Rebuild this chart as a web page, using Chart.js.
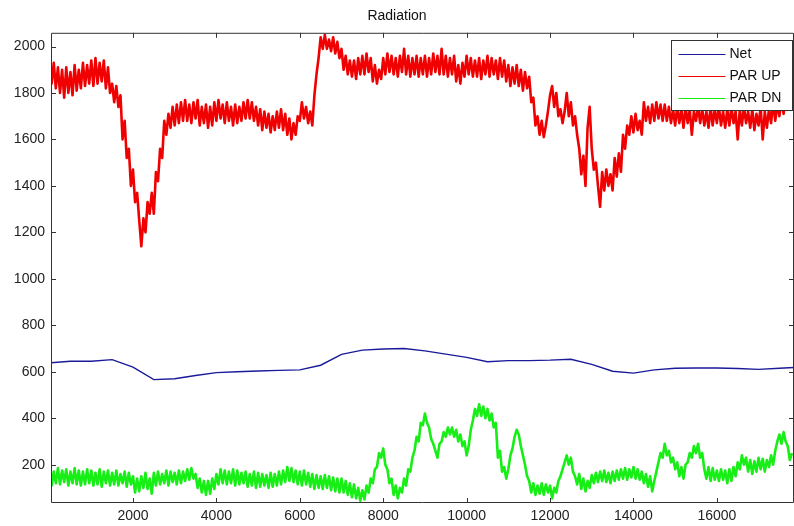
<!DOCTYPE html>
<html>
<head>
<meta charset="utf-8">
<script src="https://cdn.jsdelivr.net/npm/chart.js@4.4.1/dist/chart.umd.min.js"></script>
<style>
  html, body { margin: 0; padding: 0; background: #ffffff; }
  #wrap { width: 794px; height: 526px; }
</style>
</head>
<body>
<div id="wrap"><canvas id="c" width="794" height="526"></canvas></div>
<script>
// ---------- data ----------
const seriesNames = ["Net", "PAR UP", "PAR DN"];
const xTicks = [2000, 4000, 6000, 8000, 10000, 12000, 14000, 16000];
const yTicks = [200, 400, 600, 800, 1000, 1200, 1400, 1600, 1800, 2000];

// Net: one sample every 500 x-units
const netStep = 500;
const net = [638,645,645,652,620,566,570,584,596,600,603,606,608,628,675,693,698,700,690,
             676,662,643,648,648,650,654,632,602,594,608,615,616,616,614,610,615,620];

// PAR UP: one sample every 50 x-units (noisy trace: upper / lower swings)
const parStep = 50;
const parUp = [
1950,1840,1930,1820,1910, 1800,1900,1780,1910,1800, 1890,1790,1920,1810,1900, 1820,1930,1830,1920,1840,
1940,1830,1950,1840,1930, 1850,1940,1820,1910,1800, 1840,1760,1830,1740,1790, 1600,1680,1520,1560,1400,
1470,1330,1370,1250,1140, 1260,1200,1330,1280,1370, 1280,1460,1420,1560,1520, 1680,1620,1710,1650,1740,
1660,1750,1670,1760,1680, 1770,1680,1750,1670,1760, 1690,1770,1660,1740,1670, 1750,1650,1740,1660,1760,
1680,1770,1690,1750,1670, 1760,1680,1740,1660,1750, 1670,1740,1680,1760,1690, 1770,1690,1760,1680,1740,
1660,1730,1640,1720,1650, 1710,1630,1700,1640,1720, 1650,1730,1640,1710,1620, 1690,1600,1670,1620,1700,
1680,1760,1690,1740,1670, 1720,1660,1790,1880,1950, 2040,1990,2050,1990,2030, 1980,2040,1970,2020,1950,
1990,1900,1960,1880,1940, 1870,1940,1860,1950,1880, 1960,1880,1970,1890,1950, 1850,1920,1840,1900,1860,
1950,1880,1970,1890,1960, 1880,1950,1870,1960,1890, 1990,1880,1960,1870,1950, 1880,1960,1870,1950,1880,
1960,1870,1950,1880,1970, 1890,1960,1880,1990,1880, 1960,1870,1950,1880,1960, 1850,1920,1840,1930,1870,
1960,1880,1950,1870,1940, 1870,1950,1860,1940,1880, 1960,1870,1950,1880,1940, 1860,1950,1870,1940,1850,
1920,1830,1910,1840,1920, 1830,1900,1810,1890,1820, 1870,1760,1780,1660,1700, 1620,1680,1610,1660,1720,
1790,1830,1740,1800,1700, 1730,1670,1720,1800,1700, 1760,1660,1700,1620,1560, 1450,1530,1400,1650,1740,
1560,1470,1500,1400,1310, 1460,1380,1470,1400,1450, 1380,1520,1440,1540,1460, 1620,1560,1660,1620,1700,
1630,1710,1640,1680,1620, 1760,1680,1740,1670,1750, 1680,1760,1690,1750,1680, 1750,1680,1740,1670,1730,
1660,1740,1670,1730,1650, 1740,1670,1730,1620,1720, 1680,1740,1670,1730,1660, 1720,1650,1740,1660,1730,
1670,1740,1660,1720,1650, 1730,1660,1740,1670,1720, 1600,1730,1660,1740,1670, 1720,1650,1730,1640,1710,
1660,1740,1600,1720,1650, 1730,1670,1760,1680,1750, 1700,1780,1710,1790,1740, 1800,1760
];

// PAR DN: one sample every 50 x-units
const parDn = [
180,110,170,120,185, 115,175,125,180,110, 170,120,185,115,175, 110,170,115,180,120,
175,110,165,115,180, 105,170,120,175,110, 165,115,175,110,160, 120,170,105,165,115,
150,80,140,85,150, 100,165,95,140,75, 165,110,170,115,160, 120,175,110,170,125,
165,115,175,120,170, 130,180,135,185,140, 160,100,140,80,130, 70,130,75,140,95,
160,115,180,120,175, 115,170,120,180,110, 175,115,165,120,170, 105,160,110,170,100,
165,105,160,110,155, 100,165,105,160,110, 170,115,175,125,190, 130,185,125,175,115,
170,110,175,115,165, 105,160,95,155,100, 150,95,155,100,150, 90,145,85,140,80,
140,80,130,70,120, 60,115,55,100,45, 90,50,110,80,140, 120,180,190,250,230,
270,200,180,120,140, 70,110,55,100,80, 140,110,180,170,230, 260,320,300,380,370,
420,380,360,310,290, 260,230,290,300,340, 320,360,330,360,320, 350,300,330,280,300,
240,280,350,390,440, 410,460,410,450,400, 440,390,420,360,380, 230,260,170,190,140,
180,240,270,320,350, 330,280,240,200,150, 130,80,120,70,110, 75,120,70,115,80,
110,55,100,80,130, 150,180,210,240,200, 230,170,150,115,160, 95,140,85,130,100,
155,120,165,125,170, 130,175,125,165,120, 170,130,175,135,180, 140,185,135,180,145,
190,140,180,135,170, 120,160,105,150,85, 130,170,210,250,230, 290,240,260,210,230,
180,210,150,190,140, 200,210,250,230,280, 250,290,230,250,180, 140,190,130,185,135,
175,130,180,135,175, 120,180,130,190,150, 210,180,240,200,230, 170,220,160,215,170,
230,180,225,170,220, 190,240,200,260,300, 330,290,340,300,280, 220,250
];

// ---------- chart ----------
const FONT = "'Liberation Sans', Arial, sans-serif";
const toXY = (arr, step) => arr.map((v, i) => ({ x: i * step, y: v }));

const matlabFrame = {
  id: 'matlabFrame',
  afterDatasetsDraw(chart) {
    const { ctx, chartArea: a, scales } = chart;
    ctx.save();
    ctx.strokeStyle = '#333333';
    ctx.lineWidth = 1;
    ctx.beginPath();
    ctx.rect(a.left + 0.5, a.top + 0.5, a.right - a.left - 1, a.bottom - a.top - 1);
    ctx.stroke();
    const tl = 5;
    ctx.beginPath();
    xTicks.forEach(v => {
      const px = Math.round(scales.x.getPixelForValue(v)) + 0.5;
      ctx.moveTo(px, a.bottom); ctx.lineTo(px, a.bottom - tl);
      ctx.moveTo(px, a.top); ctx.lineTo(px, a.top + tl);
    });
    yTicks.forEach(v => {
      const py = Math.round(scales.y.getPixelForValue(v)) + 0.5;
      ctx.moveTo(a.left, py); ctx.lineTo(a.left + tl, py);
      ctx.moveTo(a.right, py); ctx.lineTo(a.right - tl, py);
    });
    ctx.stroke();

    // legend box (MATLAB style, inside the axes, top right)
    const bx = 671.5, by = 40.5, bw = 121, bh = 70;
    ctx.fillStyle = '#ffffff';
    ctx.fillRect(bx, by, bw, bh);
    ctx.strokeStyle = '#333333';
    ctx.strokeRect(bx, by, bw, bh);
    ctx.font = '14px ' + FONT;
    ctx.textBaseline = 'middle';
    ctx.textAlign = 'left';
    chart.data.datasets.forEach((ds, i) => {
      const ry = by + 14 + i * 22;
      ctx.strokeStyle = ds.borderColor;
      ctx.lineWidth = 1;
      ctx.beginPath();
      ctx.moveTo(bx + 7, ry); ctx.lineTo(bx + 54, ry);
      ctx.stroke();
      ctx.fillStyle = '#111111';
      ctx.fillText(ds.label, bx + 58, ry);
    });
    ctx.restore();
  }
};

new Chart(document.getElementById('c'), {
  type: 'line',
  data: {
    datasets: [
      { label: seriesNames[0], data: toXY(net, netStep), borderColor: '#1a1a9a', borderWidth: 1.4 },
      { label: seriesNames[1], data: toXY(parUp, parStep), borderColor: '#f00000', borderWidth: 2.6, borderJoinStyle: 'round' },
      { label: seriesNames[2], data: toXY(parDn, parStep), borderColor: '#16ee16', borderWidth: 2.6, borderJoinStyle: 'round' }
    ]
  },
  options: {
    responsive: false,
    animation: false,
    events: [],
    parsing: true,
    elements: { point: { radius: 0 }, line: { tension: 0 } },
    layout: { padding: 0 },
    plugins: {
      legend: { display: false },
      tooltip: { enabled: false },
      title: {
        display: true,
        text: 'Radiation',
        color: '#111111',
        font: { family: FONT, size: 14, weight: 'normal' },
        padding: { top: 8, bottom: 8 }
      }
    },
    scales: {
      x: {
        type: 'linear',
        min: 34,
        max: 17850,
        afterFit(s) { s.height = 23; },
        afterBuildTicks(s) { s.ticks = xTicks.map(v => ({ value: v })); },
        grid: { display: false, drawTicks: false },
        border: { display: false },
        ticks: {
          autoSkip: false, maxRotation: 0, padding: 5,
          color: '#222222', font: { family: FONT, size: 14 },
          callback: v => String(v)
        }
      },
      y: {
        type: 'linear',
        min: 35,
        max: 2059,
        afterFit(s) { s.width = 51; },
        afterBuildTicks(s) { s.ticks = yTicks.map(v => ({ value: v })); },
        grid: { display: false, drawTicks: false },
        border: { display: false },
        ticks: {
          autoSkip: false, padding: 6,
          color: '#222222', font: { family: FONT, size: 14 },
          callback: v => String(v)
        }
      }
    }
  },
  plugins: [matlabFrame]
});
</script>
</body>
</html>
